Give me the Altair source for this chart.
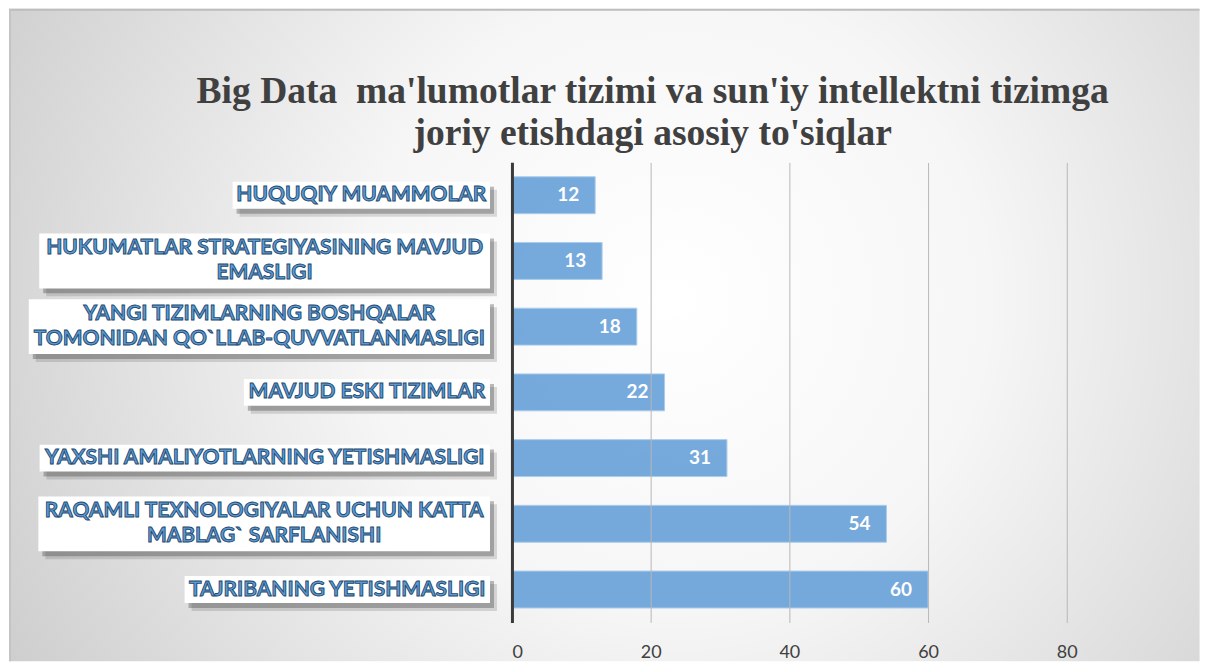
import glob
import struct
import subprocess

import altair as alt
import pandas as pd

# ---------------- data ----------------
label_lines = [
    ["HUQUQIY MUAMMOLAR"],
    ["HUKUMATLAR STRATEGIYASINING MAVJUD", "EMASLIGI"],
    ["YANGI TIZIMLARNING BOSHQALAR", "TOMONIDAN QO`LLAB-QUVVATLANMASLIGI"],
    ["MAVJUD ESKI TIZIMLAR"],
    ["YAXSHI AMALIYOTLARNING YETISHMASLIGI"],
    ["RAQAMLI TEXNOLOGIYALAR UCHUN KATTA", "MABLAG` SARFLANISHI"],
    ["TAJRIBANING YETISHMASLIGI"],
]
values = [12, 13, 18, 22, 31, 54, 60]
x_ticks = [0, 20, 40, 60, 80]
title_lines = ["Big Data\u00a0 ma'lumotlar tizimi va sun'iy intellektni tizimga",
               "joriy etishdagi asosiy to'siqlar"]

# ---------------- layout helpers ----------------
W, H = 625.5, 461
XMAX = 90
NCAT = len(values)
ppx = W / XMAX
ppy = H / NCAT
LABEL_FS = 21
LABEL_LH = 25
GAP = 22  # px between label boxes and the axis line


def _find_font():
    for pat in ["/usr/share/fonts/**/Lato-Bold.ttf", "/usr/share/fonts/**/Lato-Bold.*",
                "/usr/local/share/fonts/**/Lato-Bold.ttf"]:
        hits = glob.glob(pat, recursive=True)
        if hits:
            return hits[0]
    try:
        p = subprocess.run(["fc-match", "-f", "%{file}", "Lato:bold"],
                           capture_output=True, text=True, timeout=5).stdout.strip()
        if p:
            return p
    except Exception:
        pass
    return None


def _ttf_measurer(path):
    data = open(path, "rb").read()
    ntab = struct.unpack(">H", data[4:6])[0]
    tabs = {}
    for i in range(ntab):
        rec = data[12 + 16 * i: 28 + 16 * i]
        tabs[rec[:4].decode("latin1")] = struct.unpack(">I", rec[8:12])[0]
    upem = struct.unpack(">H", data[tabs["head"] + 18: tabs["head"] + 20])[0]
    nhm = struct.unpack(">H", data[tabs["hhea"] + 34: tabs["hhea"] + 36])[0]
    hm = tabs["hmtx"]
    adv = [struct.unpack(">H", data[hm + 4 * i: hm + 4 * i + 2])[0] for i in range(nhm)]
    cm = tabs["cmap"]
    nsub = struct.unpack(">H", data[cm + 2: cm + 4])[0]
    sub = None
    for i in range(nsub):
        pid, eid, off = struct.unpack(">HHI", data[cm + 4 + 8 * i: cm + 12 + 8 * i])
        fmt = struct.unpack(">H", data[cm + off: cm + off + 2])[0]
        if pid == 3 and eid == 1 and fmt == 4:
            sub = cm + off
    segx2 = struct.unpack(">H", data[sub + 6: sub + 8])[0]
    seg = segx2 // 2
    ends = struct.unpack(">%dH" % seg, data[sub + 14: sub + 14 + segx2])
    so = sub + 16 + segx2
    starts = struct.unpack(">%dH" % seg, data[so: so + segx2])
    deltas = struct.unpack(">%dh" % seg, data[so + segx2: so + 2 * segx2])
    ro = so + 2 * segx2
    ros = struct.unpack(">%dH" % seg, data[ro: ro + segx2])

    def gid(c):
        for i in range(seg):
            if starts[i] <= c <= ends[i]:
                if ros[i] == 0:
                    return (c + deltas[i]) & 0xFFFF
                addr = ro + 2 * i + ros[i] + 2 * (c - starts[i])
                g = struct.unpack(">H", data[addr: addr + 2])[0]
                return (g + deltas[i]) & 0xFFFF if g else 0
        return 0

    def measure(s, fs):
        return sum(adv[min(gid(ord(ch)), nhm - 1)] for ch in s) * fs / upem

    return measure


def _fallback_measure(s, fs):
    return len(s) * 0.58 * fs


try:
    _fp = _find_font()
    measure = _ttf_measurer(_fp) if _fp else _fallback_measure
except Exception:
    measure = _fallback_measure

rows = []
for i, (lines, v) in enumerate(zip(label_lines, values)):
    w = max(measure(l, LABEL_FS) for l in lines) + 6
    h = 27 if len(lines) == 1 else 55
    rows.append(dict(
        idx=i, value=v, label="\n".join(lines),
        ty=i - (len(lines) - 1) * LABEL_LH / 2 / ppy,
        bx1=(-GAP - w) / ppx, bx2=-GAP / ppx, cx=(-GAP - w / 2) / ppx,
        by1=i - (h / 2) / ppy, by2=i + (h / 2) / ppy,
        sx1=(-GAP - w + 4) / ppx, sx2=(-GAP + 4) / ppx,
        sy1=i - (h / 2 - 5) / ppy, sy2=i + (h / 2 + 5) / ppy,
        tx1=(-GAP - w + 7) / ppx, tx2=(-GAP + 7) / ppx,
        ty1=i - (h / 2 - 8) / ppy, ty2=i + (h / 2 + 8) / ppy,
    ))
df = pd.DataFrame(rows)
one = pd.DataFrame({"t": [0]})

xs = alt.Scale(domain=[0, XMAX], nice=False, zero=True, padding=0)
ys = alt.Scale(domain=[-0.5, NCAT - 0.5], reverse=True, nice=False, zero=False, padding=0)

base = alt.Chart(df)

bg = alt.Chart(one).mark_rect(
    color=alt.RadialGradient(
        gradient="radial", x1=0.56, y1=0.47, r1=0.0, x2=0.56, y2=0.47, r2=0.75,
        stops=[alt.GradientStop(offset=0, color="#ffffff"),
               alt.GradientStop(offset=0.35, color="#f6f6f6"),
               alt.GradientStop(offset=1, color="#c2c2c2")]),
).encode(x=alt.value(-504), x2=alt.value(689), y=alt.value(-154), y2=alt.value(500))

frame_top = alt.Chart(one).mark_rule(color="#bdbdbd", strokeWidth=2).encode(
    x=alt.value(-504), x2=alt.value(689), y=alt.value(-153))
frame_left = alt.Chart(one).mark_rule(color="#c4c4c4", strokeWidth=2).encode(
    x=alt.value(-503), y=alt.value(-153), y2=alt.value(500))

title = alt.Chart(one).mark_text(
    text=title_lines, font="Liberation Serif", fontWeight="bold", fontSize=37.6,
    color="#404040", align="center", baseline="alphabetic", lineHeight=42,
).encode(x=alt.value(141), y=alt.value(-59))

shadow2 = base.mark_rect(color="#404040", opacity=0.18).encode(
    x=alt.X("tx1:Q", scale=xs), x2="tx2:Q", y=alt.Y("ty1:Q", scale=ys), y2="ty2:Q")
shadow1 = base.mark_rect(color="#404040", opacity=0.35).encode(
    x=alt.X("sx1:Q", scale=xs), x2="sx2:Q", y=alt.Y("sy1:Q", scale=ys), y2="sy2:Q")
boxes = base.mark_rect(color="#ffffff").encode(
    x=alt.X("bx1:Q", scale=xs), x2="bx2:Q", y=alt.Y("by1:Q", scale=ys), y2="by2:Q")

txt = base.mark_text(
    font="Lato", fontWeight="bold", fontSize=LABEL_FS, lineBreak="\n", lineHeight=LABEL_LH,
    align="center", baseline="middle", fill="#5b9bd5", stroke="#24476b", strokeWidth=0.9,
).encode(x=alt.X("cx:Q", scale=xs), y=alt.Y("ty:Q", scale=ys), text="label:N")

bars = base.mark_bar(orient="horizontal", size=37, color="#72a7db",
                     stroke="#a9cbec", strokeWidth=1, opacity=0.97).encode(
    x=alt.X("value:Q", scale=xs,
            axis=alt.Axis(values=x_ticks, grid=True, gridColor="#b8b8b8", gridWidth=1,
                          domain=False, ticks=False, labelFont="Lato", labelFontSize=18,
                          labelColor="#404040", labelPadding=21, title=None, zindex=1)),
    y=alt.Y("idx:Q", scale=ys,
            axis=alt.Axis(labels=False, ticks=False, grid=False, domain=True,
                          domainColor="#3a3a3a", domainWidth=3, title=None, zindex=2)),
)

vals = base.mark_text(font="Lato", fontWeight="bold", fontSize=19, color="#ffffff",
                      align="right", baseline="middle", dx=-16).encode(
    x=alt.X("value:Q", scale=xs), y=alt.Y("idx:Q", scale=ys), text="value:Q")

chart = alt.layer(bg, frame_top, frame_left, title, shadow2, shadow1, boxes,
                  txt, bars, vals).properties(
    width=W, height=H, padding=0
).configure_view(stroke=None).configure(background="#ffffff")

chart.save("out.html", embed_options={"renderer": "svg", "actions": False})
